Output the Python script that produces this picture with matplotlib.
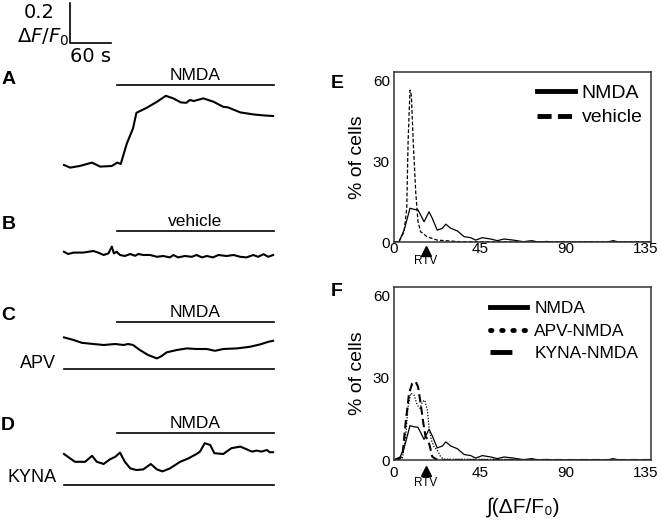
import matplotlib
matplotlib.use('Agg')
import matplotlib.pyplot as plt
from matplotlib.lines import Line2D
from matplotlib.transforms import blended_transform_factory, ScaledTranslation

SANS = ['Liberation Sans', 'DejaVu Sans']
plt.rcParams['font.family'] = SANS
plt.rcParams['mathtext.fontset'] = 'dejavusans'

# ---- example traces (time in s, dF/F0 relative to first sample) ----
a_t = [0, 9, 23, 41, 53, 70, 78, 83, 92, 101, 106, 121, 136, 149, 160, 171, 179,
       184, 190, 204, 219, 233, 240, 258, 277, 292, 306]
a_v = [0.005, -0.008, 0.0, 0.017, -0.003, 0.0, 0.017, 0.01, 0.113, 0.188, 0.266,
       0.291, 0.321, 0.351, 0.338, 0.318, 0.316, 0.33, 0.325, 0.338, 0.321, 0.296,
       0.293, 0.268, 0.258, 0.253, 0.25]

b_t = [0, 6, 14, 28, 43, 50, 58, 65, 70, 73, 77, 82, 89, 97, 104, 109, 116, 126,
       136, 145, 155, 160, 167, 177, 187, 194, 202, 209, 218, 226, 238, 248, 258,
       267, 277, 284, 292, 299, 306]
b_v = [0.006, -0.005, 0.002, 0.002, 0.01, 0.002, -0.01, -0.002, 0.032, -0.002,
       0.006, -0.01, -0.015, -0.005, -0.014, -0.005, -0.01, -0.01, -0.019, -0.015,
       -0.022, -0.01, -0.022, -0.015, -0.019, -0.01, -0.022, -0.015, -0.022, -0.01,
       -0.015, -0.01, -0.019, -0.022, -0.01, -0.019, -0.006, -0.019, -0.01]

c_t = [0, 14, 26, 43, 58, 75, 87, 94, 101, 111, 123, 136, 143, 150, 165, 180, 194,
       209, 221, 233, 253, 272, 287, 299, 306]
c_v = [-0.002, -0.015, -0.029, -0.035, -0.04, -0.035, -0.04, -0.035, -0.04, -0.065,
       -0.09, -0.107, -0.095, -0.077, -0.065, -0.057, -0.06, -0.06, -0.069, -0.06,
       -0.057, -0.049, -0.037, -0.024, -0.019]

d_t = [0, 9, 16, 23, 31, 41, 48, 58, 67, 75, 82, 89, 97, 106, 116, 127, 136, 144,
       155, 170, 182, 194, 199, 206, 214, 220, 233, 245, 258, 267, 275, 282, 289,
       297, 301, 306]
d_v = [0.0, -0.022, -0.039, -0.039, -0.039, -0.009, -0.039, -0.05, -0.027, -0.014,
       0.007, -0.039, -0.072, -0.08, -0.077, -0.05, -0.077, -0.087, -0.072, -0.039,
       -0.022, 0.0, 0.012, 0.054, 0.045, 0.004, 0.0, 0.029, 0.037, 0.024, 0.012,
       0.017, 0.012, 0.02, 0.009, 0.009]

drug_on = 78      # s, start of NMDA / vehicle application
trace_end = 307   # s

# ---- distributions of integrated response (% of cells) ----
nmda_x = [0, 2.6, 5.3, 7.0, 8.4, 10.5, 12.6, 14.0, 15.8, 18.4, 20.1, 22.7, 25.4,
          27.2, 29.8, 33.3, 36.8, 40.3, 42.9, 46.4, 50.8, 54.3, 57.8, 62.7, 68.0,
          72.3, 75.8, 80.2, 83, 112, 115.2, 118, 135]
nmda_y = [0, 0.1, 4.4, 8.8, 12.5, 12.1, 11.9, 10.0, 7.5, 11.2, 8.8, 4.4, 5.1, 6.6,
          5.1, 4.1, 2.0, 1.6, 0.7, 1.6, 1.1, 0.5, 1.1, 0.7, 0.1, 0.5, 0.0, 0.2, 0.0,
          0.0, 0.5, 0.0, 0.0]

veh_x = [0, 2.6, 5.3, 6.7, 7.4, 8.4, 9.1, 10.1, 11.4, 12.6, 14.0, 17.5, 22.7, 35.0, 135]
veh_y = [0, 0.1, 3.8, 12.5, 37.2, 56.3, 54.5, 37.2, 18.6, 7.5, 3.8, 1.9, 0.7, 0.1, 0]

apv_x = [0, 4.4, 6.1, 7.4, 8.8, 10.5, 12.2, 13.7, 14.9, 16.1, 17.5, 18.4, 19.6,
         21.0, 22.7, 24.5, 25.9, 135]
apv_y = [0, 0.6, 8.5, 19.4, 24.3, 23.7, 20.0, 18.8, 21.2, 21.8, 18.2, 12.1, 7.3,
         4.8, 3.6, 1.2, 0.3, 0]

kyna_x = [0, 4.4, 6.1, 7.9, 9.6, 11.4, 12.6, 14.0, 15.4, 16.6, 17.9, 18.9, 20.1,
          21.4, 23, 135]
kyna_y = [0, 1.2, 13.4, 24.3, 27.9, 28.5, 26.7, 20.6, 13.4, 8.5, 7.3, 4.8, 1.2,
          0.6, 0, 0]

rtv = 16.6
x_ticks = [0, 45, 90, 135]
y_ticks = [0, 30, 60]

W, H = 662, 525
fig = plt.figure(figsize=(W / 100, H / 100), dpi=100)

# ---------------- left column: example traces ----------------
# 41 px per 60 s, 40 px per 0.2 dF/F0, trace starts at x = 64 px
sx = 60 / 41
sy = 0.005
axl = fig.add_axes([0, 0, 330 / W, 1])
axl.set_xlim(-64 * sx, (330 - 64) * sx)
axl.set_ylim(-H * sy, 0)
axl.axis('off')

lw_tr = 1.5
lw_bar = 1.2
txt_kw = dict(fontsize=12.5, ha='center', va='bottom')


def trace(t, v, base):
    axl.plot(t, [base + x for x in v], color='black', lw=lw_tr, solid_joinstyle='round')


def bar(x0, x1, y, label=None):
    axl.plot([x0, x1], [y, y], color='black', lw=lw_bar)
    if label:
        axl.text((x0 + x1) / 2, y + 0.01, label, **txt_kw)


# A
trace(a_t, a_v, -166 * sy)
bar(drug_on, trace_end, -85 * sy, 'NMDA')
# B
trace(b_t, b_v, -253 * sy)
bar(drug_on, trace_end, -231 * sy, 'vehicle')
# C
trace(c_t, c_v, -337 * sy)
bar(drug_on, trace_end, -322 * sy, 'NMDA')
bar(0, trace_end, -369 * sy)
axl.text(-8 * sx, -363 * sy, 'APV', fontsize=13, ha='right', va='center')
# D
trace(d_t, d_v, -454 * sy)
bar(drug_on, trace_end, -433 * sy, 'NMDA')
bar(0, trace_end, -485 * sy)
axl.text(-7 * sx, -478 * sy, 'KYNA', fontsize=13, ha='right', va='center')

# scale bar
x_sb = 6 * sx
axl.plot([x_sb, x_sb, x_sb + 60], [-3 * sy, -43 * sy, -43 * sy], color='black', lw=1.2)
axl.text(x_sb - 15 * sx, -13 * sy, '0.2', fontsize=14, ha='right', va='center',
         family='DejaVu Sans')
axl.text(x_sb - 1 * sx, -37 * sy, r'$\mathit{\Delta F/F}_0$', fontsize=14, ha='right',
         va='center')
axl.text(x_sb, -57 * sy, '60 s', fontsize=14, ha='left', va='center', family='DejaVu Sans')

# panel letters
for lab, px, py in [('A', 2, 79), ('B', 2, 224), ('C', 1, 316), ('D', 1, 426),
                    ('E', 331, 83), ('F', 331, 292)]:
    fig.text(px / W, 1 - py / H, lab, fontsize=14, fontweight='bold', ha='left',
             va='center')


# ---------------- right column: distributions ----------------
def hist_axes(top, height, xpad):
    ax = fig.add_axes([394 / W, 1 - (top + height) / H, 257 / W, height / H])
    ax.set_xlim(0, 135)
    ax.set_ylim(0, 63)
    ax.set_xticks(x_ticks)
    ax.set_yticks(y_ticks)
    ax.tick_params(length=0, labelsize=11)
    ax.tick_params(axis='y', pad=3)
    ax.tick_params(axis='x', pad=xpad)
    for s in ax.spines.values():
        s.set_linewidth(1.1)
        s.set_color('#333333')
    ax.set_ylabel('% of cells', fontsize=14, labelpad=5)
    return ax


def rtv_mark(ax, ytri, ytxt):
    tr = blended_transform_factory(ax.transData, ax.transAxes)
    ax.plot([rtv], [ytri], marker='^', color='black', ms=7, transform=tr, clip_on=False)
    ax.text(rtv, ytxt, 'RTV', fontsize=8.5, ha='center', va='center', transform=tr)


# E
axe = hist_axes(72, 170, 0)
axe.plot(nmda_x, nmda_y, color='black', lw=0.9)
axe.plot(veh_x, veh_y, color='black', lw=0.9, dashes=(3, 1.6))
rtv_mark(axe, -0.055, -0.11)
h_e = [Line2D([], [], color='black', lw=3.5),
       Line2D([], [], color='black', lw=3.5, dashes=(2.9, 1.3))]
axe.legend(h_e, ['NMDA', 'vehicle'], loc='upper left', bbox_to_anchor=(0.556, 0.93),
           frameon=False, fontsize=14, handlelength=1.95, handletextpad=0.35,
           labelspacing=0.37, borderpad=0, borderaxespad=0)

# F
axf = hist_axes(287, 173, 4)
axf.plot(nmda_x, nmda_y, color='black', lw=0.9)
axf.plot(apv_x, apv_y, color='black', lw=0.9, dashes=(1, 1.3))
axf.plot(kyna_x, kyna_y, color='black', lw=1.5, dashes=(4, 2))
rtv_mark(axf, -0.065, -0.133)
h_f = [Line2D([], [], color='black', lw=3.5),
       Line2D([], [], color='black', lw=3.5, dashes=(0.3, 2.0), dash_capstyle='round'),
       Line2D([], [], color='black', lw=3.5, dashes=(4.5, 6))]
axf.legend(h_f, ['NMDA', 'APV-NMDA', 'KYNA-NMDA'], loc='upper left',
           bbox_to_anchor=(0.374, 0.919), frameon=False, fontsize=12.5,
           handlelength=2.1, handletextpad=0.45, labelspacing=0.43, borderpad=0,
           borderaxespad=0)
axf.set_xlabel('∫(ΔF/F₀)', fontsize=15)
axf.xaxis.set_label_coords(0.5, -0.215)

# the "135" labels sit at the figure edge, pull them in a little
for ax in (axe, axf):
    last = ax.xaxis.get_major_ticks()[-1].label1
    last.set_transform(last.get_transform() + ScaledTranslation(-5 / 100, 0, fig.dpi_scale_trans))

fig.savefig('out.png', dpi=100)
